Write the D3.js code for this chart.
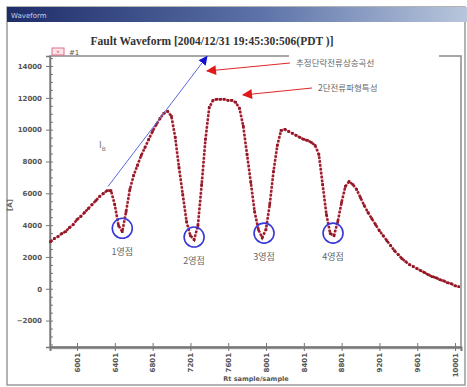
<!DOCTYPE html>
<html lang="ko">
<head>
<meta charset="UTF-8">
<script src="https://d3js.org/d3.v7.min.js"></script>
<style>
  body { margin: 0; background: #fff; }
  svg { display: block; }
  .tick text { font-family: "DejaVu Sans", sans-serif; fill: #555; }
</style>
<title>Fault Waveform</title>
</head>
<body>
<div id="chart"></div>
<script>
const W = 467, H = 387;

// sample index of the first point and spacing between points
const sampleStart = 5720;
const sampleStep = 40;

// current [A], one value per sample step
const current = [
  2960, 3150, 3280, 3470, 3590, 3840, 4030, 4350, 4540, 4790,
  5040, 5290, 5540, 5800, 5990, 6170, 6170, 5290, 3970, 3590,
  4850, 6240, 7120, 7750, 8380, 8880, 9390, 9890, 10330, 10710,
  11030, 11150, 10840, 9510, 7620, 5920, 4220, 3340, 3090, 3970,
  6550, 9390, 11400, 11840, 11910, 11910, 11910, 11840, 11840, 11720,
  11340, 10210, 8440, 6680, 4850, 3720, 3210, 3720, 5290, 7370,
  9010, 9950, 10020, 9890, 9770, 9640, 9510, 9390, 9320, 9200,
  9010, 8440, 6550, 4660, 3470, 3340, 4220, 5420, 6430, 6740,
  6550, 6240, 5730, 5230, 4790, 4410, 4030, 3650, 3340, 3020,
  2710, 2390, 2140, 1890, 1700, 1510, 1390, 1260, 1130, 1010,
  880, 760, 690, 570, 500, 380, 320, 190, 130
];

const yTicks = [-2000, 0, 2000, 4000, 6000, 8000, 10000, 12000, 14000];
const xTicks = [6001, 6401, 6801, 7201, 7601, 8001, 8401, 8801, 9201, 9601, 10001];

// estimated rising curve (blue arrow), sample / A
const estLine = [[6329, 6430], [7376, 14600]];

// zero points marked with circles: sample, A, label
const zeroPts = [
  { s: 6480, v: 3800, label: "1영점" },
  { s: 7240, v: 3250, label: "2영점" },
  { s: 7980, v: 3500, label: "3영점" },
  { s: 8710, v: 3500, label: "4영점" }
];

const svg = d3.select("#chart").append("svg")
  .attr("width", W).attr("height", H);

const defs = svg.append("defs");
const grad = defs.append("linearGradient").attr("id", "bar");
grad.append("stop").attr("offset", "0%").attr("stop-color", "#1e2c68");
grad.append("stop").attr("offset", "55%").attr("stop-color", "#5c72a8");
grad.append("stop").attr("offset", "100%").attr("stop-color", "#b8c6dc");

// window frame
svg.append("rect").attr("x", 7).attr("y", 7).attr("width", 458).attr("height", 378)
  .attr("fill", "#fff").attr("stroke", "#9a9a9a").attr("stroke-width", 1.5);
svg.append("rect").attr("x", 7).attr("y", 7).attr("width", 460).attr("height", 15)
  .attr("fill", "url(#bar)");
svg.append("text").attr("x", 11).attr("y", 17.5)
  .style("font-family", "DejaVu Sans, sans-serif").style("font-size", "7px")
  .attr("fill", "#c8d0e8").text("Waveform");

svg.append("text").attr("x", 212).attr("y", 45).attr("text-anchor", "middle")
  .style("font-family", "Liberation Serif, serif").style("font-weight", "bold")
  .style("font-size", "11.5px").attr("fill", "#333")
  .text("Fault Waveform [2004/12/31 19:45:30:506(PDT )]");

const m = { left: 50, top: 56, right: 461, bottom: 347 };
const x = d3.scaleLinear().domain([5715, 10064]).range([m.left, m.right]);
const y = d3.scaleLinear().domain([-3660, 14630]).range([m.bottom, m.top]);

// plot frame
svg.append("rect").attr("x", m.left).attr("y", m.top)
  .attr("width", m.right - m.left).attr("height", m.bottom - m.top)
  .attr("fill", "none").attr("stroke", "#8a8a8a").attr("stroke-width", 1.5);
svg.append("line").attr("x1", m.left).attr("x2", m.right)
  .attr("y1", m.bottom + 1.5).attr("y2", m.bottom + 1.5)
  .attr("stroke", "#b5b5b5").attr("stroke-width", 1.5);

// y axis
const yAxis = svg.append("g").attr("transform", `translate(${m.left},0)`)
  .call(d3.axisLeft(y).tickValues(yTicks).tickFormat(d3.format("d")).tickSize(4).tickPadding(4));
yAxis.selectAll("text").style("font-size", "7px").style("font-weight", "bold");
svg.append("g").attr("transform", `translate(${m.left},0)`)
  .call(d3.axisRight(y).tickValues(d3.range(-3500, 14600, 500)).tickSize(3).tickFormat(""))
  .call(g => g.select(".domain").remove());
svg.selectAll(".domain").attr("stroke", "#777").attr("stroke-width", 1.5);
svg.selectAll(".tick line").attr("stroke", "#777");

// x axis
const xAxis = svg.append("g").attr("transform", `translate(0,${m.bottom})`)
  .call(d3.axisBottom(x).tickValues(xTicks).tickFormat(d3.format("d")).tickSize(4).tickPadding(3));
xAxis.select(".domain").attr("stroke", "#777").attr("stroke-width", 2);
xAxis.selectAll(".tick line").attr("y1", -4).attr("stroke", "#777");
xAxis.selectAll("text").style("font-size", "7px").style("font-weight", "bold")
  .attr("transform", "rotate(-90)").attr("text-anchor", "end")
  .attr("x", -6).attr("y", 0).attr("dy", "0.32em");

svg.append("text").attr("x", 256).attr("y", 381).attr("text-anchor", "middle")
  .style("font-family", "DejaVu Sans, sans-serif").style("font-size", "6.5px")
  .style("font-weight", "bold").attr("fill", "#555").text("Rt sample/sample");
svg.append("text").attr("transform", "translate(12,205) rotate(-90)")
  .attr("text-anchor", "middle")
  .style("font-family", "DejaVu Sans, sans-serif").style("font-size", "7px")
  .style("font-weight", "bold").attr("fill", "#666").text("[A]");

// legend
svg.append("rect").attr("x", 52).attr("y", 48).attr("width", 12).attr("height", 7)
  .attr("fill", "#fde4ea").attr("stroke", "#e07088");
svg.append("text").attr("x", 58).attr("y", 54).attr("text-anchor", "middle")
  .style("font-size", "7px").attr("fill", "#b01830").text("×");
svg.append("text").attr("x", 69).attr("y", 54.5)
  .style("font-family", "DejaVu Sans, sans-serif").style("font-size", "7px")
  .attr("fill", "#555").text("#1");

// waveform
const pts = current.map((v, i) => [sampleStart + i * sampleStep, v]);
const line = d3.line().x(d => x(d[0])).y(d => y(d[1]));
svg.append("path").datum(pts).attr("d", line)
  .attr("fill", "none").attr("stroke", "#f0a8b8").attr("stroke-width", 1.4);
svg.append("path").datum(pts).attr("d", line)
  .attr("fill", "none").attr("stroke", "#9c1c2a").attr("stroke-width", 2.6)
  .attr("stroke-dasharray", "2.5,1.4");
svg.selectAll(".pt").data(pts).enter().append("rect").attr("class", "pt")
  .attr("x", d => x(d[0]) - 1.3).attr("y", d => y(d[1]) - 1.3)
  .attr("width", 2.6).attr("height", 2.6).attr("fill", "#921826");

// estimated rising curve
defs.append("marker").attr("id", "blueHead").attr("viewBox", "0 0 10 10")
  .attr("refX", 9).attr("refY", 5).attr("markerWidth", 9).attr("markerHeight", 9)
  .attr("markerUnits", "userSpaceOnUse").attr("orient", "auto")
  .append("path").attr("d", "M0,0L10,5L0,10Z").attr("fill", "#1010d8");
svg.append("line")
  .attr("x1", x(estLine[0][0])).attr("y1", y(estLine[0][1]))
  .attr("x2", x(estLine[1][0])).attr("y2", y(estLine[1][1]))
  .attr("stroke", "#5a6ae0").attr("stroke-width", 1)
  .attr("marker-end", "url(#blueHead)");
svg.append("text").attr("x", 99).attr("y", 148)
  .style("font-family", "DejaVu Sans, sans-serif").style("font-size", "9px")
  .attr("fill", "#777").text("I")
  .append("tspan").attr("dy", 3).style("font-size", "6px").text("B");

// annotations with red arrows
defs.append("marker").attr("id", "redHead").attr("viewBox", "0 0 10 10")
  .attr("refX", 9).attr("refY", 5).attr("markerWidth", 12).attr("markerHeight", 10)
  .attr("markerUnits", "userSpaceOnUse").attr("orient", "auto")
  .append("path").attr("d", "M0,0L10,5L0,10Z").attr("fill", "#e01818");
svg.append("rect").attr("x", 289).attr("y", 52).attr("width", 150).attr("height", 8)
  .attr("fill", "#fff");
svg.append("line").attr("x1", 290).attr("y1", 63).attr("x2", 207).attr("y2", 71)
  .attr("stroke", "#e02828").attr("stroke-width", 1.2).attr("marker-end", "url(#redHead)");
svg.append("line").attr("x1", 312).attr("y1", 88).attr("x2", 243).attr("y2", 95)
  .attr("stroke", "#e02828").attr("stroke-width", 1.2).attr("marker-end", "url(#redHead)");
svg.append("text").attr("x", 296).attr("y", 66)
  .style("font-family", "Noto Sans CJK KR, sans-serif").style("font-size", "8.5px")
  .attr("fill", "#666").text("추정단락전류상승곡선");
svg.append("text").attr("x", 318).attr("y", 91)
  .style("font-family", "Noto Sans CJK KR, sans-serif").style("font-size", "8.5px")
  .attr("fill", "#666").text("2단전류파형특성");

// zero point circles
svg.selectAll(".zc").data(zeroPts).enter().append("circle").attr("class", "zc")
  .attr("cx", d => x(d.s)).attr("cy", d => y(d.v)).attr("r", 10)
  .attr("fill", "none").attr("stroke", "#3838d8").attr("stroke-width", 1.6);
svg.selectAll(".zl").data(zeroPts).enter().append("text").attr("class", "zl")
  .attr("x", d => x(d.s)).attr("y", d => y(d.v) + 27).attr("text-anchor", "middle")
  .style("font-family", "Noto Sans CJK KR, sans-serif").style("font-size", "9px")
  .attr("fill", "#666").text(d => d.label);
</script>
</body>
</html>
